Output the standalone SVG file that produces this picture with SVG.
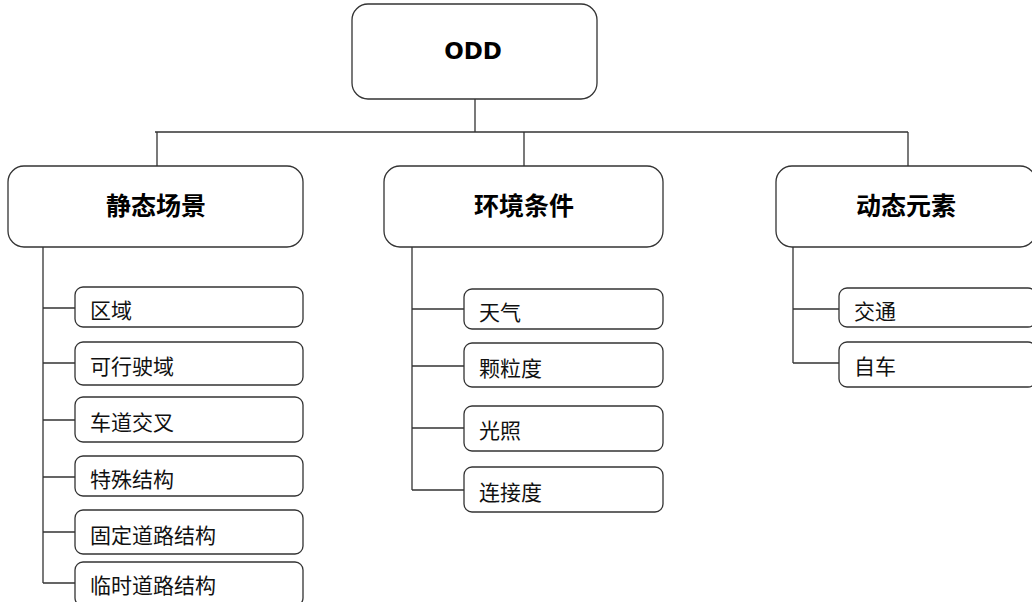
<svg xmlns="http://www.w3.org/2000/svg" width="1032" height="602" viewBox="0 0 1032 602">
<style>
.box{fill:#fff;stroke:#333;stroke-width:1.3}
.ln{fill:none;stroke:#333;stroke-width:1.3}
.h{font-family:"Noto Sans CJK SC","Noto Sans",sans-serif;font-weight:bold;font-size:25px;fill:#000;text-anchor:middle}
.c{font-family:"Noto Sans CJK SC","Noto Sans",sans-serif;font-size:21px;fill:#111}
.odd{font-family:"DejaVu Sans",sans-serif;font-weight:bold;font-size:23px;fill:#000;text-anchor:middle}
</style>
<rect width="1032" height="602" fill="#fff"/>
<g id="connectors">
<path class="ln" d="M475,99V132M155,132H908M157,132V166M524,132V166M908,132V166"/>
<path class="ln" d="M43,247V583M43,308H75M43,363H75M43,420H75M43,477H75M43,532H75M43,583H75"/>
<path class="ln" d="M412,247V490M412,309H464M412,366H464M412,428H464M412,490H464"/>
<path class="ln" d="M793,247V363M793,309H839M793,363H839"/>
</g>
<g id="odd"><rect class="box" x="352" y="4" width="245" height="95" rx="16"/><text class="odd" x="473" y="59">ODD</text></g>
<g id="static"><rect class="box" x="8" y="166" width="295" height="81" rx="16"/><text class="h" x="156" y="215">静态场景</text></g>
<g id="env"><rect class="box" x="384" y="166" width="279" height="81" rx="16"/><text class="h" x="524" y="215">环境条件</text></g>
<g id="dyn"><rect class="box" x="776" y="166" width="260" height="81" rx="16"/><text class="h" x="906" y="215">动态元素</text></g>
<g id="s1"><rect class="box" x="75" y="287" width="228" height="40" rx="8"/><text class="c" x="90" y="318">区域</text></g>
<g id="s2"><rect class="box" x="75" y="342" width="228" height="43" rx="8"/><text class="c" x="90" y="374">可行驶域</text></g>
<g id="s3"><rect class="box" x="75" y="397" width="228" height="45" rx="8"/><text class="c" x="90" y="430">车道交叉</text></g>
<g id="s4"><rect class="box" x="75" y="456" width="228" height="40" rx="8"/><text class="c" x="90" y="487">特殊结构</text></g>
<g id="s5"><rect class="box" x="75" y="510" width="228" height="44" rx="8"/><text class="c" x="90" y="543">固定道路结构</text></g>
<g id="s6"><rect class="box" x="75" y="562" width="228" height="44" rx="8"/><text class="c" x="90" y="593">临时道路结构</text></g>
<g id="e1"><rect class="box" x="464" y="289" width="199" height="40" rx="8"/><text class="c" x="479" y="320">天气</text></g>
<g id="e2"><rect class="box" x="464" y="343" width="199" height="44" rx="8"/><text class="c" x="479" y="376">颗粒度</text></g>
<g id="e3"><rect class="box" x="464" y="406" width="199" height="45" rx="8"/><text class="c" x="479" y="438">光照</text></g>
<g id="e4"><rect class="box" x="464" y="467" width="199" height="45" rx="8"/><text class="c" x="479" y="500">连接度</text></g>
<g id="d1"><rect class="box" x="839" y="288" width="197" height="39" rx="8"/><text class="c" x="854" y="319">交通</text></g>
<g id="d2"><rect class="box" x="839" y="342" width="197" height="45" rx="8"/><text class="c" x="854" y="374">自车</text></g>
</svg>
